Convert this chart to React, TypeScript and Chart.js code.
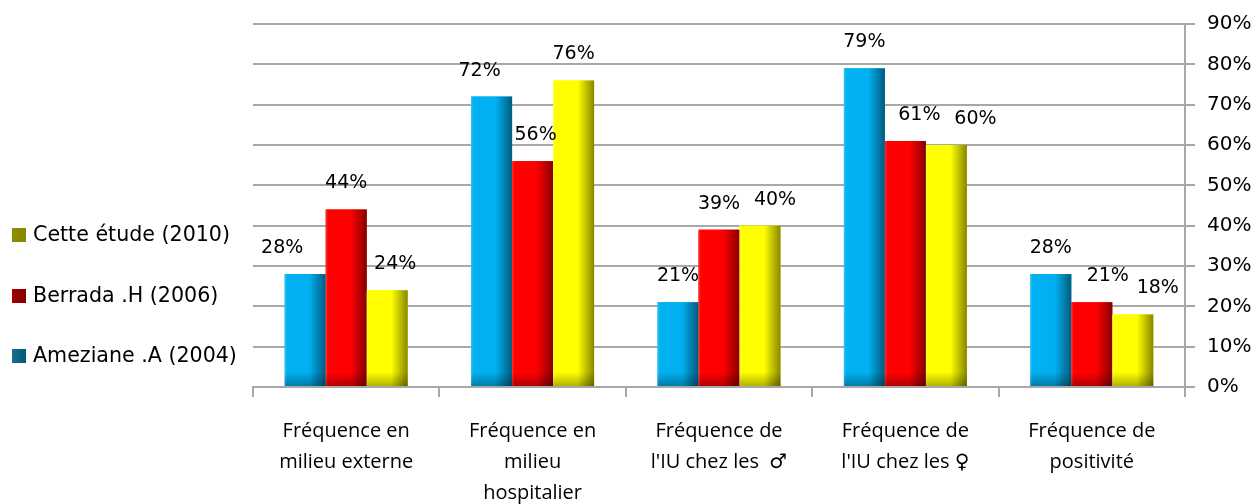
import React, { useEffect, useRef } from "react";
import { Chart, registerables } from "chart.js";

Chart.register(...registerables);

// ---- data ----
const categories: string[][] = [
  ["Fréquence en", "milieu externe"],
  ["Fréquence en", "milieu", "hospitalier"],
  ["Fréquence de", "l'IU chez les  ♂"],
  ["Fréquence de", "l'IU chez les ♀"],
  ["Fréquence de", "positivité"],
];
const seriesNames = ["Ameziane .A (2004)", "Berrada .H (2006)", "Cette étude (2010)"];
const amezianeValues = [28, 72, 21, 79, 28];
const berradaValues = [44, 56, 39, 61, 21];
const cetteEtudeValues = [24, 76, 40, 60, 18];
const yMin = 0;
const yMax = 90;
const yStep = 10;

// ---- styles ----
const barStyles = [
  { base: "#00b0f0", light: "#33c4f7", dark: "#005b7d", legend: "#1b6e8e" },
  { base: "#ff0000", light: "#ff3030", dark: "#870000", legend: "#a00000" },
  { base: "#ffff00", light: "#ffff40", dark: "#878700", legend: "#8e8e00" },
];
// manual nudges of the value labels (as in the reference)
const labelNudgeX = [
  [-23, -12, 0, 0, 0],
  [0, 3, 0, 14, 16],
  [8, 0, 15, 29, 25],
];
const gridColor = "#a8a8a8";

const shadePlugin = {
  id: "shadeBars",
  afterDatasetsDraw(chart: any) {
    const ctx = chart.ctx as CanvasRenderingContext2D;
    chart.data.datasets.forEach((ds: any, di: number) => {
      const meta = chart.getDatasetMeta(di);
      const st = barStyles[di];
      meta.data.forEach((el: any) => {
        const { x, y, base, width } = el.getProps(["x", "y", "base", "width"], true);
        const left = x - width / 2;
        const h = base - y;
        ctx.save();
        const g = ctx.createLinearGradient(left, 0, left + width, 0);
        g.addColorStop(0, st.light);
        g.addColorStop(0.06, st.base);
        g.addColorStop(0.6, st.base);
        g.addColorStop(1, st.dark);
        ctx.fillStyle = g;
        ctx.fillRect(left, y, width, h);
        const bh = Math.min(14, h);
        const g2 = ctx.createLinearGradient(0, base - bh, 0, base);
        g2.addColorStop(0, "rgba(0,0,0,0)");
        g2.addColorStop(1, "rgba(0,0,0,0.3)");
        ctx.fillStyle = g2;
        ctx.fillRect(left, base - bh, width, bh);
        ctx.restore();
      });
    });
    // value labels
    ctx.save();
    ctx.font = "19px 'DejaVu Sans'";
    ctx.fillStyle = "#000";
    ctx.textAlign = "center";
    ctx.textBaseline = "middle";
    chart.data.datasets.forEach((ds: any, di: number) => {
      const meta = chart.getDatasetMeta(di);
      meta.data.forEach((el: any, i: number) => {
        const { x, y } = el.getProps(["x", "y"], true);
        ctx.fillText(ds.data[i] + "%", x + labelNudgeX[di][i], y - 26);
      });
    });
    ctx.restore();
  },
  afterDraw(chart: any) {
    const ctx = chart.ctx as CanvasRenderingContext2D;
    const centersY = [356, 296, 235];
    ctx.save();
    ctx.font = "20.6px 'DejaVu Sans'";
    ctx.textBaseline = "middle";
    ctx.textAlign = "left";
    for (let di = 0; di < seriesNames.length; di++) {
      const cy = centersY[di];
      const st = barStyles[di];
      const g = ctx.createLinearGradient(12, 0, 26, 0);
      g.addColorStop(0, st.legend);
      g.addColorStop(1, st.dark);
      ctx.fillStyle = g;
      ctx.fillRect(12, cy - 7, 14, 14);
      ctx.fillStyle = "#000";
      ctx.fillText(seriesNames[di], 33, cy + 1);
    }
    ctx.restore();
  },
};

export default function App() {
  const ref = useRef<HTMLCanvasElement>(null);
  useEffect(() => {
    document.body.style.margin = "0";
    const canvas = ref.current!;
    const values = [amezianeValues, berradaValues, cetteEtudeValues];
    const chart = new Chart(canvas, {
      type: "bar",
      data: {
        labels: categories,
        datasets: values.map((v, i) => ({
          label: seriesNames[i],
          data: v,
          backgroundColor: barStyles[i].base,
          borderWidth: 0,
          categoryPercentage: 0.66,
          barPercentage: 1,
        })),
      },
      options: {
        animation: false,
        responsive: false,
        maintainAspectRatio: false,
        layout: { padding: { left: 253, top: 22, right: 0, bottom: 0 } },
        plugins: { legend: { display: false }, tooltip: { enabled: false } },
        scales: {
          x: {
            grid: {
              display: true,
              drawOnChartArea: false,
              drawTicks: true,
              tickLength: 10,
              color: gridColor,
              lineWidth: 2,
              offset: true,
            },
            border: { display: true, color: gridColor, width: 2 },
            ticks: {
              font: { family: "'Open Sans', 'DejaVu Sans'", size: 20, lineHeight: 31 / 20 },
              color: "#000",
              padding: 19,
              maxRotation: 0,
              autoSkip: false,
            },
            afterFit: (s: any) => {
              s.height = 117;
            },
          },
          y: {
            position: "right",
            min: yMin,
            max: yMax,
            ticks: {
              stepSize: yStep,
              callback: (v: any) => v + "%",
              font: { family: "DejaVu Sans", size: 20 },
              color: "#000",
              padding: 12,
            },
            grid: { color: gridColor, lineWidth: 2, tickLength: 10 },
            border: { display: true, color: gridColor, width: 2 },
            afterFit: (s: any) => {
              s.width = 71;
            },
          },
        },
      },
      plugins: [shadePlugin],
    });
    return () => chart.destroy();
  }, []);
  return <canvas ref={ref} width={1256} height={504} style={{ display: "block" }} />;
}
